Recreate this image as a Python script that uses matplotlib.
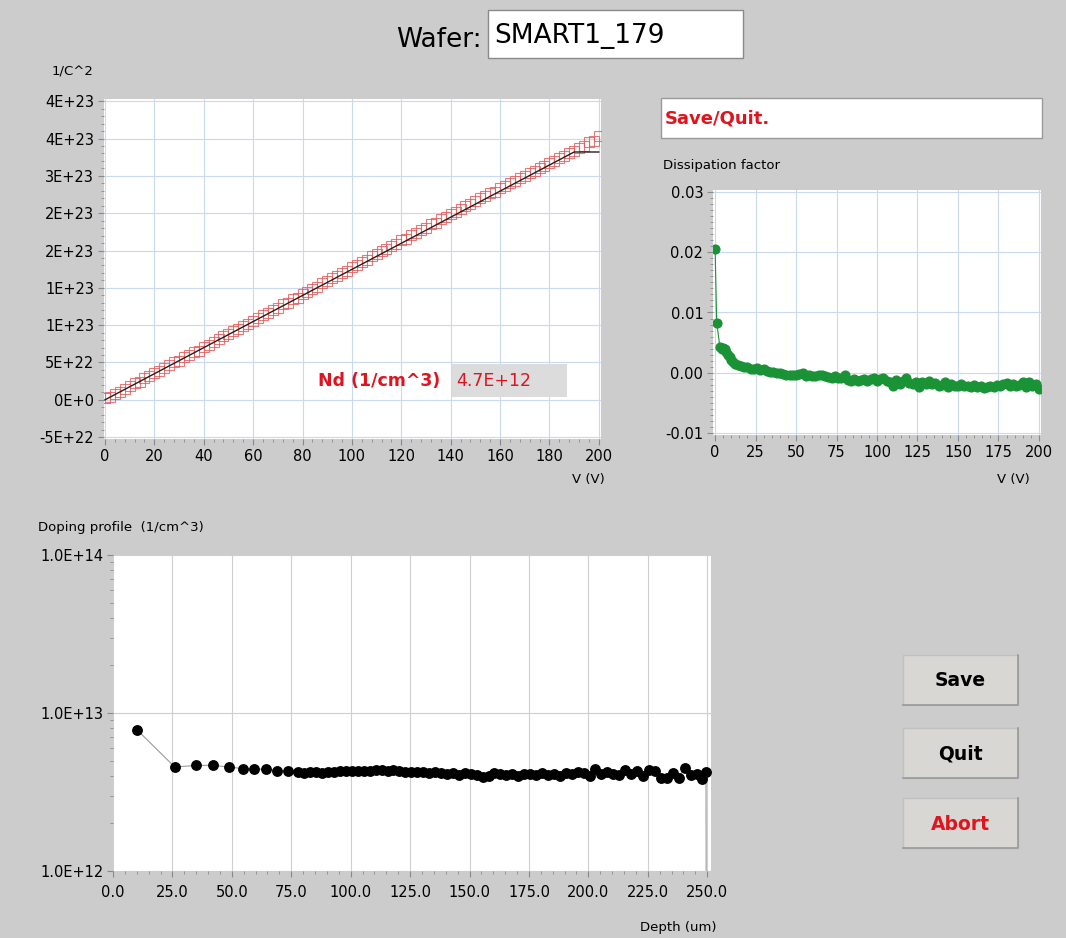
import numpy as np
import matplotlib
matplotlib.use('Agg')
import matplotlib.pyplot as plt
from matplotlib.patches import Rectangle
from matplotlib.ticker import FixedLocator, FixedFormatter, MultipleLocator, LogLocator, NullFormatter

# ---- data ----
wafer_name = 'SMART1_179'
status_text = 'Save/Quit.'
nd_value = '4.7E+12'

# 1/C^2 vs bias voltage (units of 1E+23)
cv_volts = np.arange(0, 201, 2)
cv_inv_c2 = [0.02, 0.04, 0.08, 0.10, 0.15, 0.18, 0.22, 0.24, 0.29, 0.32,
             0.36, 0.38, 0.43, 0.46, 0.50, 0.52, 0.57, 0.60, 0.64, 0.66,
             0.71, 0.74, 0.78, 0.81, 0.85, 0.88, 0.92, 0.95, 0.99, 1.02,
             1.06, 1.09, 1.13, 1.16, 1.20, 1.23, 1.28, 1.30, 1.35, 1.37,
             1.42, 1.45, 1.49, 1.51, 1.56, 1.59, 1.63, 1.66, 1.70, 1.73,
             1.78, 1.80, 1.85, 1.87, 1.92, 1.95, 1.99, 2.02, 2.06, 2.09,
             2.14, 2.16, 2.21, 2.23, 2.28, 2.30, 2.35, 2.37, 2.42, 2.45,
             2.49, 2.52, 2.56, 2.59, 2.63, 2.66, 2.70, 2.73, 2.77, 2.79,
             2.84, 2.86, 2.90, 2.93, 2.97, 3.00, 3.04, 3.06, 3.11, 3.13,
             3.17, 3.20, 3.24, 3.27, 3.31, 3.33, 3.38, 3.40, 3.45, 3.47,
             3.53]
fit_volts = [0, 190, 200]
fit_inv_c2 = [0.0, 3.32, 3.32]

y_ticks_cv = [-0.5, 0, 0.5, 1.0, 1.5, 2.0, 2.5, 3.0, 3.5, 4.0]
y_labels_cv = ['-5E+22', '0E+0', '5E+22', '1E+23', '1E+23', '2E+23',
               '2E+23', '3E+23', '4E+23', '4E+23']

# dissipation factor (units of 1E-3)
df_volts = [0, 1, 3, 4, 5, 6, 7, 8, 9, 10, 11, 12, 14, 16, 18, 20, 22, 24,
            26, 28, 30, 32, 34, 36, 38, 40, 42, 44, 46, 48, 50, 52, 54, 56,
            58, 60, 62, 64, 66, 68, 70, 72, 74, 76, 78, 80, 82, 84, 86, 88,
            90, 92, 94, 96, 98, 100, 102, 104, 106, 108, 110, 112, 114, 116,
            118, 120, 122, 124, 126, 128, 130, 132, 134, 136, 138, 140, 142,
            144, 146, 148, 150, 152, 154, 156, 158, 160, 162, 164, 166, 168,
            170, 172, 174, 176, 178, 180, 182, 184, 186, 188, 190, 192, 194,
            196, 198, 200]
df_values = [20.5, 8.3, 4.2, 4.0, 4.1, 3.9, 3.5, 3.0, 2.6, 2.2, 1.8, 1.5,
             1.3, 1.2, 1.0, 0.9, 0.7, 0.6, 0.8, 0.5, 0.6, 0.3, 0.2, 0.1, 0.0,
             -0.1, -0.2, -0.3, -0.3, -0.4, -0.4, -0.2, 0.0, -0.5, -0.4, -0.6,
             -0.5, -0.3, -0.4, -0.6, -0.7, -0.8, -0.6, -0.9, -0.8, -0.4, -1.2,
             -1.3, -1.1, -1.4, -1.2, -1.0, -1.3, -1.1, -0.9, -1.4, -1.0, -0.8,
             -1.3, -1.6, -2.2, -1.2, -1.8, -1.4, -0.9, -1.7, -1.9, -1.6, -2.3,
             -1.5, -1.8, -1.3, -1.9, -1.7, -2.1, -2.0, -1.5, -2.3, -1.8, -2.1,
             -2.2, -1.9, -2.2, -2.1, -2.4, -2.0, -2.4, -2.2, -2.5, -2.3, -2.1,
             -2.4, -2.0, -2.2, -1.9, -1.7, -2.1, -1.8, -2.2, -2.0, -1.6, -2.3,
             -1.5, -2.2, -1.8, -2.6]

# doping profile (units of 1E+12 per cm^3)
dop_depth = [10.2, 26.0, 35.0, 42.0, 49.0, 54.5, 59.5, 64.5, 69.0, 73.5,
             78.0, 80.5, 83.0, 85.5, 88.0, 90.5, 93.0, 95.5, 98.0, 100.5,
             103.0, 105.5, 108.0, 110.5, 113.0, 115.5, 118.0, 120.5, 123.0,
             125.5, 128.0, 130.5, 133.0, 135.5, 138.0, 140.5, 143.0, 145.5,
             148.0, 150.5, 153.0, 155.5, 158.0, 160.5, 163.0, 165.5, 168.0,
             170.5, 173.0, 175.5, 178.0, 180.5, 183.0, 185.5, 188.0, 190.5,
             193.0, 195.5, 198.0, 200.5, 203.0, 205.5, 208.0, 210.5, 213.0,
             215.5, 218.0, 220.5, 223.0, 225.5, 228.0, 230.5, 233.0, 235.5,
             238.0, 240.5, 243.0, 245.5, 248.0, 249.5, 249.6]
dop_nd = [7.8, 4.55, 4.66, 4.66, 4.55, 4.45, 4.42, 4.42, 4.32, 4.30,
          4.25, 4.20, 4.22, 4.22, 4.20, 4.22, 4.25, 4.28, 4.30, 4.30,
          4.32, 4.32, 4.30, 4.35, 4.38, 4.32, 4.36, 4.30, 4.22, 4.26,
          4.22, 4.24, 4.20, 4.22, 4.15, 4.12, 4.18, 4.05, 4.15, 4.12,
          4.08, 3.95, 4.02, 4.18, 4.12, 4.08, 4.10, 4.02, 4.10, 4.10,
          4.08, 4.15, 4.05, 4.12, 4.02, 4.18, 4.10, 4.22, 4.15, 4.02,
          4.45, 4.10, 4.25, 4.12, 4.05, 4.35, 4.12, 4.28, 3.98, 4.35,
          4.28, 3.85, 3.88, 4.20, 3.90, 4.48, 4.05, 4.12, 3.82, 4.22,
          0.5]

dop_xticks = [0, 25, 50, 75, 100, 125, 150, 175, 200, 225, 250]
dop_xlabels = ['0.0', '25.0', '50.0', '75.0', '100.0', '125.0', '150.0',
               '175.0', '200.0', '225.0', '250.0']
dop_yticks = [1e12, 1e13, 1e14]
dop_ylabels = ['1.0E+12', '1.0E+13', '1.0E+14']

# ---- layout helpers (pixel boxes, top-left origin) ----
W, H = 1066, 938
BG = '#cccccc'
plt.rcParams['font.family'] = 'DejaVu Sans'


def box(x0, y0, x1, y1):
    return [x0 / W, 1 - y1 / H, (x1 - x0) / W, (y1 - y0) / H]


def style_axis(ax, gridcolor):
    ax.set_facecolor('white')
    for s in ax.spines.values():
        s.set_visible(False)
    ax.tick_params(which='both', direction='out', color='#8a8a8a',
                   labelsize=10.5, labelcolor='black', pad=3)
    ax.tick_params(which='major', length=4)
    ax.tick_params(which='minor', length=2)
    ax.grid(True, which='major', color=gridcolor, linewidth=0.8)
    ax.set_axisbelow(True)


fig = plt.figure(figsize=(W / 100, H / 100), dpi=100, facecolor=BG)

# ---- 1/C^2 plot ----
ax1 = fig.add_axes(box(104, 99, 601, 439))
style_axis(ax1, '#c9d9ee')
ax1.plot(cv_volts, np.array(cv_inv_c2) * 1e23, ls='none', marker='s',
         ms=6.5, mfc='none', mec='#e25858', mew=0.8, alpha=0.8)
ax1.plot(fit_volts, np.array(fit_inv_c2) * 1e23, color='#2a1a1a', lw=1.0)
ax1.set_xlim(-0.4, 200.9)
ax1.set_ylim(-5.25e22, 4.03e23)
ax1.xaxis.set_major_locator(MultipleLocator(20))
ax1.xaxis.set_minor_locator(MultipleLocator(4))
ax1.yaxis.set_major_locator(FixedLocator([v * 1e23 for v in y_ticks_cv]))
ax1.yaxis.set_major_formatter(FixedFormatter(y_labels_cv))
ax1.yaxis.set_minor_locator(MultipleLocator(1e22))

# ---- dissipation factor plot ----
ax2 = fig.add_axes(box(713, 190, 1041, 435))
style_axis(ax2, '#c9d9ee')
ax2.plot(df_volts, np.array(df_values) * 1e-3, color='#1a9236', lw=0.8,
         marker='o', ms=6.3, mfc='#1a9236', mec='#1a9236')
ax2.set_xlim(-1.3, 201.3)
ax2.set_ylim(-0.0103, 0.0303)
ax2.xaxis.set_major_locator(MultipleLocator(25))
ax2.xaxis.set_minor_locator(MultipleLocator(5))
ax2.yaxis.set_major_locator(FixedLocator([-0.01, 0.0, 0.01, 0.02, 0.03]))
ax2.yaxis.set_major_formatter(FixedFormatter(['-0.01', '0.00', '0.01', '0.02', '0.03']))
ax2.yaxis.set_minor_locator(MultipleLocator(0.001))

# ---- doping profile ----
ax3 = fig.add_axes(box(113, 555, 711, 871))
style_axis(ax3, '#cfcfcf')
ax3.set_yscale('log')
ax3.plot(dop_depth, np.array(dop_nd) * 1e12, color='#9a9a9a', lw=0.8,
         marker='o', ms=6.8, mfc='black', mec='black')
ax3.set_xlim(0, 251.6)
ax3.set_ylim(1e12, 1e14)
ax3.xaxis.set_major_locator(FixedLocator(dop_xticks))
ax3.xaxis.set_major_formatter(FixedFormatter(dop_xlabels))
ax3.xaxis.set_minor_locator(MultipleLocator(5))
ax3.yaxis.set_major_locator(FixedLocator(dop_yticks))
ax3.yaxis.set_major_formatter(FixedFormatter(dop_ylabels))
ax3.yaxis.set_minor_locator(LogLocator(base=10, subs=np.arange(2, 10)))
ax3.yaxis.set_minor_formatter(NullFormatter())
ax3.grid(False, which='minor')
ax3.tick_params(axis='x', pad=6)

# ---- overlay: panel text, boxes and buttons ----
ov = fig.add_axes([0, 0, 1, 1])
ov.set_xlim(0, W)
ov.set_ylim(H, 0)
ov.axis('off')
ov.patch.set_alpha(0)

ov.text(482, 40, 'Wafer:', fontsize=19, ha='right', va='center')
ov.add_patch(Rectangle((488, 10), 255, 48, facecolor='white', edgecolor='#8a8a8a', lw=1))
ov.text(494, 36, wafer_name, fontsize=19, ha='left', va='center')

ov.text(52, 72, '1/C^2', fontsize=9.5, ha='left', va='center')
ov.text(605, 480, 'V (V)', fontsize=9.5, ha='right', va='center')
ov.text(663, 166, 'Dissipation factor', fontsize=9.5, ha='left', va='center')
ov.text(1030, 480, 'V (V)', fontsize=9.5, ha='right', va='center')
ov.text(38, 528, 'Doping profile  (1/cm^3)', fontsize=9.5, ha='left', va='center')
ov.text(717, 927, 'Depth (um)', fontsize=9.5, ha='right', va='center')

ov.add_patch(Rectangle((661, 98), 381, 40, facecolor='white', edgecolor='#9a9a9a', lw=1))
ov.text(665, 119, status_text, fontsize=13, fontweight='bold', color='#e0141e',
        ha='left', va='center')

ov.text(440, 381, 'Nd (1/cm^3)', fontsize=12.5, fontweight='bold', color='#e0141e',
        ha='right', va='center')
ov.add_patch(Rectangle((452, 364), 115, 33, facecolor='#dcdcdc', edgecolor='none'))
ov.text(456, 381, nd_value, fontsize=12.5, color='#e0141e', ha='left', va='center')

for label, ytop, col in [('Save', 655, 'black'), ('Quit', 728, 'black'), ('Abort', 798, '#e0141e')]:
    ov.add_patch(Rectangle((903, ytop), 115, 50, facecolor='#d9d7d3', edgecolor='#c0c0c0', lw=1))
    ov.plot([903, 1018, 1018], [ytop + 50, ytop + 50, ytop], color='#999999', lw=1.2)
    ov.text(960, ytop + 26, label, fontsize=13.5, fontweight='bold', color=col,
            ha='center', va='center')

fig.savefig('out.png', dpi=100, facecolor=BG)
